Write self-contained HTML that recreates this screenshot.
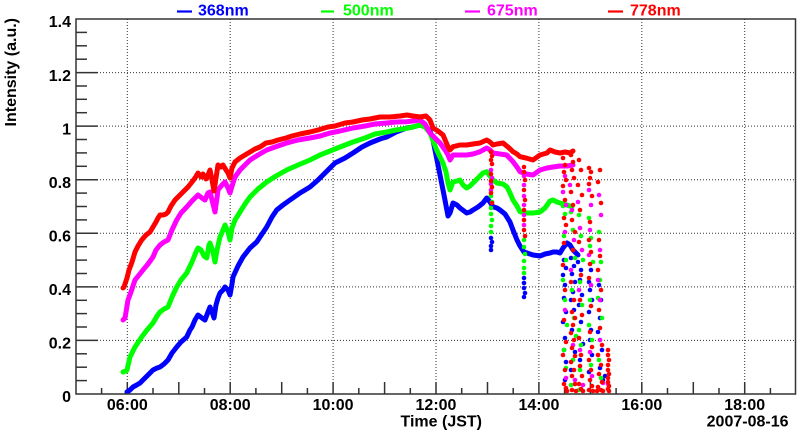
<!DOCTYPE html>
<html><head><meta charset="utf-8"><style>
html,body{margin:0;padding:0;background:#fff;}
svg{display:block;}
text{font-family:"Liberation Sans",Arial,sans-serif;font-weight:bold;font-size:16px;}
</style></head><body>
<svg width="800" height="434" viewBox="0 0 800 434" xmlns="http://www.w3.org/2000/svg">
<rect width="800" height="434" fill="#fff"/>
<!-- grid -->
<g stroke="#333" stroke-width="1" stroke-dasharray="1,2" fill="none">
<line x1="127.3" y1="19" x2="127.3" y2="394"/>
<line x1="230.2" y1="19" x2="230.2" y2="394"/>
<line x1="333.1" y1="19" x2="333.1" y2="394"/>
<line x1="436" y1="19" x2="436" y2="394"/>
<line x1="538.9" y1="19" x2="538.9" y2="394"/>
<line x1="641.8" y1="19" x2="641.8" y2="394"/>
<line x1="744.7" y1="19" x2="744.7" y2="394"/>
<line x1="76" y1="340.4" x2="795.5" y2="340.4"/>
<line x1="76" y1="286.9" x2="795.5" y2="286.9"/>
<line x1="76" y1="233.3" x2="795.5" y2="233.3"/>
<line x1="76" y1="179.7" x2="795.5" y2="179.7"/>
<line x1="76" y1="126.1" x2="795.5" y2="126.1"/>
<line x1="76" y1="72.6" x2="795.5" y2="72.6"/>
</g>
<!-- ticks -->
<g stroke="#333" stroke-width="1.5">
<line x1="76" y1="340.4" x2="98" y2="340.4"/><line x1="76" y1="286.9" x2="98" y2="286.9"/>
<line x1="76" y1="233.3" x2="98" y2="233.3"/><line x1="76" y1="179.7" x2="98" y2="179.7"/>
<line x1="76" y1="126.1" x2="98" y2="126.1"/><line x1="76" y1="72.6" x2="98" y2="72.6"/>
<line x1="76" y1="380.6" x2="87" y2="380.6"/><line x1="76" y1="367.2" x2="87" y2="367.2"/><line x1="76" y1="353.8" x2="87" y2="353.8"/>
<line x1="76" y1="327" x2="87" y2="327"/><line x1="76" y1="313.6" x2="87" y2="313.6"/><line x1="76" y1="300.3" x2="87" y2="300.3"/>
<line x1="76" y1="273.5" x2="87" y2="273.5"/><line x1="76" y1="260.1" x2="87" y2="260.1"/><line x1="76" y1="246.7" x2="87" y2="246.7"/>
<line x1="76" y1="219.9" x2="87" y2="219.9"/><line x1="76" y1="206.5" x2="87" y2="206.5"/><line x1="76" y1="193.1" x2="87" y2="193.1"/>
<line x1="76" y1="166.3" x2="87" y2="166.3"/><line x1="76" y1="152.9" x2="87" y2="152.9"/><line x1="76" y1="139.5" x2="87" y2="139.5"/>
<line x1="76" y1="112.7" x2="87" y2="112.7"/><line x1="76" y1="99.3" x2="87" y2="99.3"/><line x1="76" y1="86" x2="87" y2="86"/>
<line x1="76" y1="59.2" x2="87" y2="59.2"/><line x1="76" y1="45.8" x2="87" y2="45.8"/><line x1="76" y1="32.4" x2="87" y2="32.4"/>
<line x1="101.6" y1="394" x2="101.6" y2="388"/><line x1="127.3" y1="394" x2="127.3" y2="382"/>
<line x1="153" y1="394" x2="153" y2="388"/><line x1="178.8" y1="394" x2="178.8" y2="382"/>
<line x1="204.5" y1="394" x2="204.5" y2="388"/><line x1="230.2" y1="394" x2="230.2" y2="382"/>
<line x1="255.9" y1="394" x2="255.9" y2="388"/><line x1="281.7" y1="394" x2="281.7" y2="382"/>
<line x1="307.4" y1="394" x2="307.4" y2="388"/><line x1="333.1" y1="394" x2="333.1" y2="382"/>
<line x1="358.8" y1="394" x2="358.8" y2="388"/><line x1="384.6" y1="394" x2="384.6" y2="382"/>
<line x1="410.3" y1="394" x2="410.3" y2="388"/><line x1="436" y1="394" x2="436" y2="382"/>
<line x1="461.7" y1="394" x2="461.7" y2="388"/><line x1="487.5" y1="394" x2="487.5" y2="382"/>
<line x1="513.2" y1="394" x2="513.2" y2="388"/><line x1="538.9" y1="394" x2="538.9" y2="382"/>
<line x1="564.6" y1="394" x2="564.6" y2="388"/><line x1="590.4" y1="394" x2="590.4" y2="382"/>
<line x1="616.1" y1="394" x2="616.1" y2="388"/><line x1="641.8" y1="394" x2="641.8" y2="382"/>
<line x1="667.5" y1="394" x2="667.5" y2="388"/><line x1="693.3" y1="394" x2="693.3" y2="382"/>
<line x1="719" y1="394" x2="719" y2="388"/><line x1="744.7" y1="394" x2="744.7" y2="382"/>
<line x1="770.4" y1="394" x2="770.4" y2="388"/>
</g>

<!-- series -->
<g fill="none" stroke-width="5" stroke-linejoin="round" stroke-linecap="round">
<polyline stroke="#0000ff" points="127,392 130,390 133,387 136.7,385 140,383 143,380 148,375 153,370 157,368 160,367 164,364 168,360 172,353 176.7,347 181,342 186.7,337 190,330 192,327 195,320 198,315 202,318 205,320 208,312 210,307 212,312 214,318 216,305 218,298 220,293 223,290 225,287 228,290 230,295 232,284 233,277 238,266 243,257 250,248 256.7,242 262,234 266.7,227 272,217 276.7,210 283,205 290,200 300,193 310,187 318,180 328,170 335,163 345,158 353,153 362,147 370,143 380,139 386.7,137 396,132 406.7,128 413,127 420,125 425,126 430,131 433,140 437,160 440,175 444,195 448,216 450,213 453,203 457,205 460,208 466.7,213 470,212 473,210 478,207 483,203 486.7,198 490,202 493,206.7 497,208 500,210 505,214 510,222 513,230 517,240 520,246 524,252 527,253 533,255 540,256 545,254 550,253 553,252 557,252 560,253 563,248 567,243 570,245 573,250 576,253 578,255"/>
<polyline stroke="#00ff00" points="123,372 126,371 127,370 130,357 135,347 141.7,337 147,330 153,323 157,316 160,312 164,309 168,307 172,297 176.7,287 181,280 186.7,273 192,262 196,252 198,248 201,250 204,256 206.7,258 209,245 210,243 213,252 215,262 217,250 220,237 223,230 225,225 228,232 230,240 232,228 235,220 240,212 245,204 250,197 258,189 266.7,182 276,176 286.7,170 298,165 310,160 320,155 330,151 340,147 353,142 365,138 375,134 386.7,132 396,130 406.7,128.3 413,127 420,125 425,127 430,133 436.7,150 440,157 443,163 446,172 448,183 450,190 453,182 457,181 460,180 463,185 466.7,188 470,186 473,183 478,178 483,173 486.7,171.7 490,176 493,180 497,183 503,184 507,187 510,193 513,200 517,206 520,211.7 526,213 533,213 540,212 545,208 550,201 553,200 557,202 560,203 567,205 572,206.7"/>
<polyline stroke="#ff00ff" points="123,320 125,318 128,300 131,292 135,280 139,275 143,270 148,264 153,257 156,250 160,245 164,242 168,240 172,230 176.7,220 181,213 186.7,207 192,201 198,195 202,198 205,200 208,193 210,192 213,204 215,212 217,198 218,190 222,185 225,182 228,188 230,193 233,183 235,177 240,170 245,165 250,160 258,155 266.7,150 275,147 286.7,143 298,140 310,138 320,136 330,133 340,131 353,128 365,126 375,124 386.7,123 396,122 406.7,121.7 413,121 420,120 425,124 430,133 435,138 440,143 445,150 448,155 450,160 453,155 460,155 466.7,155 473,154 480,151.7 486.7,148 490,150 493,153 500,154 506.7,155 513,161.7 517,167 520,171.7 526,174 533,175 540,170 547,168 553,167 560,166 567,166 573,165"/>
<polyline stroke="#ff0000" points="123,288 124,287 127,278 129,270 132,262 135,252 138,246 141.7,240 146,235 150,232 153,227 156,222 158,218 160,215 163,215 166,214 168,212 171,206 175,200 179,196 183,192 188,187 192,182 195,178 198,173 201,177 203,174 206,179 208,175 210,170 212,180 214,191 216,178 218,165 221,167 223,165 226,170 228,173 230,178 232,168 235,162 240,158 245,155 250,152 255,149 260,147 266,143 272,142 278,140 286,138 292,136 300,134 310,132 318,130 328,127 335,126 345,123 353,122 362,120 370,119 380,117 390,117 400,116 407,115 413,116 420,117 426,116 430,120 433,128 438,131 443,135 448,146.7 450,150 453,146.7 460,145 466.7,145 473,144 480,143 486.7,140 490,142 493,145 497,144 503,143 508,147 513,151.7 517,154 520,156.7 526,158 533,160 540,155 547,153 550,150 555,152 560,153 565,152 570,153 573,151"/>
</g>

<!-- scattered points -->
<g fill="#0000ff">
<circle cx="491" cy="238" r="2.3"/><circle cx="492" cy="242" r="2.3"/><circle cx="491" cy="246" r="2.3"/><circle cx="491" cy="250" r="2.3"/>
<circle cx="524" cy="278" r="2.3"/><circle cx="524" cy="283" r="2.3"/><circle cx="524" cy="288" r="2.3"/><circle cx="525" cy="293" r="2.3"/><circle cx="524" cy="297" r="2.3"/>
<circle cx="564" cy="260" r="2.3"/><circle cx="566" cy="268" r="2.3"/><circle cx="563" cy="275" r="2.3"/><circle cx="565" cy="285" r="2.3"/><circle cx="564" cy="298" r="2.3"/><circle cx="566" cy="312" r="2.3"/><circle cx="563" cy="322" r="2.3"/><circle cx="565" cy="338" r="2.3"/><circle cx="564" cy="350" r="2.3"/><circle cx="566" cy="362" r="2.3"/><circle cx="565" cy="380" r="2.3"/>
<circle cx="571" cy="258" r="2.3"/><circle cx="574" cy="266" r="2.3"/><circle cx="572" cy="274" r="2.3"/><circle cx="575" cy="282" r="2.3"/><circle cx="573" cy="292" r="2.3"/><circle cx="571" cy="300" r="2.3"/><circle cx="574" cy="310" r="2.3"/><circle cx="572" cy="330" r="2.3"/><circle cx="575" cy="352" r="2.3"/><circle cx="571" cy="370" r="2.3"/>
<circle cx="578" cy="262" r="2.3"/><circle cx="581" cy="270" r="2.3"/><circle cx="580" cy="280" r="2.3"/><circle cx="582" cy="295" r="2.3"/><circle cx="579" cy="305" r="2.3"/><circle cx="581" cy="322" r="2.3"/><circle cx="583" cy="344" r="2.3"/><circle cx="580" cy="360" r="2.3"/>
<circle cx="591" cy="270" r="2.3"/><circle cx="589" cy="282" r="2.3"/><circle cx="590" cy="290" r="2.3"/><circle cx="592" cy="300" r="2.3"/><circle cx="589" cy="312" r="2.3"/><circle cx="591" cy="330" r="2.3"/><circle cx="590" cy="340" r="2.3"/><circle cx="592" cy="355" r="2.3"/><circle cx="589" cy="372" r="2.3"/>
<circle cx="599" cy="285" r="2.3"/><circle cx="601" cy="300" r="2.3"/><circle cx="600" cy="318" r="2.3"/><circle cx="598" cy="332" r="2.3"/><circle cx="602" cy="350" r="2.3"/><circle cx="600" cy="368" r="2.3"/><circle cx="603" cy="380" r="2.3"/><circle cx="605" cy="376" r="2.3"/>
</g>
<g fill="#00ff00">
<circle cx="491" cy="196" r="2.3"/><circle cx="492" cy="202" r="2.3"/><circle cx="491" cy="208" r="2.3"/><circle cx="491" cy="214" r="2.3"/><circle cx="492" cy="220" r="2.3"/><circle cx="491" cy="226" r="2.3"/><circle cx="491" cy="232" r="2.3"/>
<circle cx="524" cy="240" r="2.3"/><circle cx="524" cy="247" r="2.3"/><circle cx="525" cy="254" r="2.3"/><circle cx="524" cy="261" r="2.3"/><circle cx="524" cy="268" r="2.3"/><circle cx="524" cy="273" r="2.3"/>
<circle cx="563" cy="206" r="2.3"/><circle cx="565" cy="214" r="2.3"/><circle cx="564" cy="236" r="2.3"/><circle cx="566" cy="260" r="2.3"/><circle cx="563" cy="280" r="2.3"/><circle cx="565" cy="300" r="2.3"/><circle cx="567" cy="325" r="2.3"/><circle cx="564" cy="350" r="2.3"/><circle cx="566" cy="368" r="2.3"/>
<circle cx="571" cy="212" r="2.3"/><circle cx="573" cy="230" r="2.3"/><circle cx="575" cy="258" r="2.3"/><circle cx="572" cy="290" r="2.3"/><circle cx="574" cy="318" r="2.3"/><circle cx="576" cy="336" r="2.3"/><circle cx="573" cy="360" r="2.3"/><circle cx="571" cy="385" r="2.3"/>
<circle cx="579" cy="215" r="2.3"/><circle cx="581" cy="236" r="2.3"/><circle cx="583" cy="260" r="2.3"/><circle cx="580" cy="282" r="2.3"/><circle cx="582" cy="305" r="2.3"/><circle cx="579" cy="330" r="2.3"/><circle cx="581" cy="345" r="2.3"/><circle cx="580" cy="370" r="2.3"/>
<circle cx="589" cy="218" r="2.3"/><circle cx="591" cy="238" r="2.3"/><circle cx="590" cy="246" r="2.3"/><circle cx="593" cy="262" r="2.3"/><circle cx="590" cy="300" r="2.3"/><circle cx="589" cy="325" r="2.3"/><circle cx="592" cy="340" r="2.3"/><circle cx="591" cy="365" r="2.3"/>
<circle cx="599" cy="232" r="2.3"/><circle cx="601" cy="262" r="2.3"/><circle cx="600" cy="280" r="2.3"/><circle cx="598" cy="298" r="2.3"/><circle cx="602" cy="318" r="2.3"/><circle cx="600" cy="340" r="2.3"/><circle cx="599" cy="360" r="2.3"/><circle cx="601" cy="378" r="2.3"/><circle cx="579" cy="390" r="2.3"/>
</g>
<g fill="#ff00ff">
<circle cx="491" cy="170" r="2.3"/><circle cx="492" cy="178" r="2.3"/><circle cx="491" cy="184" r="2.3"/><circle cx="491" cy="190" r="2.3"/>
<circle cx="524" cy="176" r="2.3"/><circle cx="524" cy="185" r="2.3"/><circle cx="524" cy="196" r="2.3"/><circle cx="524" cy="205" r="2.3"/><circle cx="524" cy="215" r="2.3"/><circle cx="524" cy="225" r="2.3"/>
<circle cx="565" cy="176" r="2.3"/><circle cx="563" cy="192" r="2.3"/><circle cx="566" cy="205" r="2.3"/><circle cx="565" cy="232" r="2.3"/><circle cx="570" cy="185" r="2.3"/><circle cx="572" cy="210" r="2.3"/><circle cx="574" cy="240" r="2.3"/><circle cx="571" cy="270" r="2.3"/>
<circle cx="578" cy="202" r="2.3"/><circle cx="580" cy="228" r="2.3"/><circle cx="582" cy="250" r="2.3"/><circle cx="579" cy="290" r="2.3"/><circle cx="589" cy="190" r="2.3"/><circle cx="591" cy="205" r="2.3"/><circle cx="590" cy="230" r="2.3"/><circle cx="589" cy="255" r="2.3"/><circle cx="591" cy="285" r="2.3"/>
<circle cx="599" cy="195" r="2.3"/><circle cx="601" cy="215" r="2.3"/><circle cx="600" cy="250" r="2.3"/><circle cx="598" cy="280" r="2.3"/><circle cx="600" cy="300" r="2.3"/><circle cx="565" cy="310" r="2.3"/><circle cx="573" cy="345" r="2.3"/><circle cx="580" cy="350" r="2.3"/><circle cx="590" cy="352" r="2.3"/><circle cx="600" cy="340" r="2.3"/>
<circle cx="566" cy="378" r="2.3"/><circle cx="575" cy="380" r="2.3"/><circle cx="583" cy="385" r="2.3"/><circle cx="592" cy="376" r="2.3"/><circle cx="603" cy="383" r="2.3"/><circle cx="608" cy="384" r="2.3"/>
</g>
<g fill="#ff0000">
<circle cx="491" cy="152" r="2.3"/><circle cx="492" cy="156" r="2.3"/><circle cx="491" cy="160" r="2.3"/><circle cx="492" cy="164" r="2.3"/><circle cx="491" cy="174" r="2.3"/><circle cx="491" cy="181" r="2.3"/><circle cx="492" cy="187" r="2.3"/><circle cx="491" cy="193" r="2.3"/><circle cx="492" cy="203" r="2.3"/>
<circle cx="524" cy="167" r="2.3"/><circle cx="524" cy="172" r="2.3"/><circle cx="525" cy="180" r="2.3"/><circle cx="524" cy="190" r="2.3"/><circle cx="525" cy="200" r="2.3"/><circle cx="524" cy="210" r="2.3"/><circle cx="524" cy="220" r="2.3"/><circle cx="524" cy="230" r="2.3"/><circle cx="525" cy="236" r="2.3"/>
<circle cx="566" cy="152" r="2.3"/><circle cx="563" cy="158" r="2.3"/><circle cx="565" cy="165" r="2.3"/><circle cx="564" cy="172" r="2.3"/><circle cx="566" cy="180" r="2.3"/><circle cx="563" cy="186" r="2.3"/><circle cx="565" cy="200" r="2.3"/><circle cx="564" cy="218" r="2.3"/><circle cx="566" cy="225" r="2.3"/><circle cx="564" cy="243" r="2.3"/><circle cx="563" cy="265" r="2.3"/><circle cx="565" cy="290" r="2.3"/><circle cx="564" cy="320" r="2.3"/><circle cx="566" cy="342" r="2.3"/><circle cx="563" cy="355" r="2.3"/><circle cx="565" cy="370" r="2.3"/><circle cx="564" cy="384" r="2.3"/><circle cx="566" cy="388" r="2.3"/><circle cx="567" cy="391" r="2.3"/>
<circle cx="571" cy="155" r="2.3"/><circle cx="573" cy="162" r="2.3"/><circle cx="572" cy="170" r="2.3"/><circle cx="574" cy="178" r="2.3"/><circle cx="571" cy="192" r="2.3"/><circle cx="573" cy="205" r="2.3"/><circle cx="572" cy="220" r="2.3"/><circle cx="575" cy="232" r="2.3"/><circle cx="573" cy="250" r="2.3"/><circle cx="571" cy="282" r="2.3"/><circle cx="574" cy="300" r="2.3"/><circle cx="572" cy="312" r="2.3"/><circle cx="575" cy="318" r="2.3"/><circle cx="573" cy="325" r="2.3"/><circle cx="571" cy="333" r="2.3"/><circle cx="574" cy="340" r="2.3"/><circle cx="572" cy="348" r="2.3"/><circle cx="575" cy="356" r="2.3"/><circle cx="571" cy="362" r="2.3"/><circle cx="574" cy="370" r="2.3"/><circle cx="572" cy="376" r="2.3"/><circle cx="575" cy="384" r="2.3"/><circle cx="572" cy="390" r="2.3"/><circle cx="576" cy="391" r="2.3"/>
<circle cx="579" cy="160" r="2.3"/><circle cx="581" cy="170" r="2.3"/><circle cx="578" cy="185" r="2.3"/><circle cx="582" cy="195" r="2.3"/><circle cx="580" cy="210" r="2.3"/><circle cx="579" cy="242" r="2.3"/><circle cx="581" cy="275" r="2.3"/><circle cx="580" cy="300" r="2.3"/><circle cx="582" cy="315" r="2.3"/><circle cx="579" cy="338" r="2.3"/><circle cx="581" cy="355" r="2.3"/><circle cx="580" cy="366" r="2.3"/><circle cx="582" cy="376" r="2.3"/><circle cx="579" cy="384" r="2.3"/><circle cx="581" cy="389" r="2.3"/><circle cx="583" cy="391" r="2.3"/>
<circle cx="589" cy="168" r="2.3"/><circle cx="591" cy="172" r="2.3"/><circle cx="590" cy="178" r="2.3"/><circle cx="589" cy="184" r="2.3"/><circle cx="592" cy="196" r="2.3"/><circle cx="590" cy="222" r="2.3"/><circle cx="589" cy="240" r="2.3"/><circle cx="591" cy="252" r="2.3"/><circle cx="590" cy="264" r="2.3"/><circle cx="589" cy="278" r="2.3"/><circle cx="591" cy="306" r="2.3"/><circle cx="590" cy="332" r="2.3"/><circle cx="592" cy="347" r="2.3"/><circle cx="589" cy="360" r="2.3"/><circle cx="591" cy="370" r="2.3"/><circle cx="590" cy="380" r="2.3"/><circle cx="592" cy="386" r="2.3"/><circle cx="589" cy="390" r="2.3"/><circle cx="593" cy="391" r="2.3"/>
<circle cx="600" cy="170" r="2.3"/><circle cx="598" cy="182" r="2.3"/><circle cx="601" cy="203" r="2.3"/><circle cx="599" cy="240" r="2.3"/><circle cx="600" cy="256" r="2.3"/><circle cx="598" cy="270" r="2.3"/><circle cx="601" cy="290" r="2.3"/><circle cx="599" cy="310" r="2.3"/><circle cx="600" cy="328" r="2.3"/><circle cx="602" cy="345" r="2.3"/><circle cx="598" cy="355" r="2.3"/><circle cx="601" cy="365" r="2.3"/><circle cx="599" cy="374" r="2.3"/><circle cx="602" cy="382" r="2.3"/><circle cx="598" cy="387" r="2.3"/><circle cx="601" cy="390" r="2.3"/><circle cx="603" cy="391" r="2.3"/><circle cx="597" cy="391" r="2.3"/>
<circle cx="608" cy="350" r="2.3"/><circle cx="608" cy="355" r="2.3"/><circle cx="609" cy="360" r="2.3"/><circle cx="608" cy="365" r="2.3"/><circle cx="608" cy="370" r="2.3"/><circle cx="609" cy="374" r="2.3"/><circle cx="608" cy="378" r="2.3"/><circle cx="608" cy="382" r="2.3"/><circle cx="609" cy="386" r="2.3"/><circle cx="608" cy="389" r="2.3"/><circle cx="609" cy="391" r="2.3"/>
</g>

<!-- frame -->
<rect x="76" y="19" width="719.5" height="375" fill="none" stroke="#333" stroke-width="1.5"/>

<!-- y labels -->
<g text-anchor="end" fill="#000">
<text x="71" y="402">0</text>
<text x="71" y="348.5">0.2</text>
<text x="71" y="295">0.4</text>
<text x="71" y="241.5">0.6</text>
<text x="71" y="188">0.8</text>
<text x="71" y="134.5">1</text>
<text x="71" y="81">1.2</text>
<text x="71" y="27">1.4</text>
</g>
<!-- x labels -->
<g text-anchor="middle" fill="#000">
<text x="127.3" y="410">06:00</text>
<text x="230.2" y="410">08:00</text>
<text x="333.1" y="410">10:00</text>
<text x="436" y="410">12:00</text>
<text x="538.9" y="410">14:00</text>
<text x="641.8" y="410">16:00</text>
<text x="744.7" y="410">18:00</text>
</g>
<text x="482" y="426.5" text-anchor="end">Time (JST)</text>
<text x="788.5" y="426.5" text-anchor="end">2007-08-16</text>
<text transform="translate(16,18) rotate(-90)" text-anchor="end">Intensity (a.u.)</text>

<!-- legend -->
<g stroke-width="2.2">
<line x1="177" y1="11.5" x2="192" y2="11.5" stroke="#0000ff"/>
<line x1="321" y1="11.5" x2="334" y2="11.5" stroke="#00ff00"/>
<line x1="465" y1="11.5" x2="480" y2="11.5" stroke="#ff00ff"/>
<line x1="608" y1="11.5" x2="623" y2="11.5" stroke="#ff0000"/>
</g>
<text x="198" y="15.5" fill="#0000ff">368nm</text>
<text x="343" y="15.5" fill="#00ff00">500nm</text>
<text x="487" y="15.5" fill="#ff00ff">675nm</text>
<text x="630" y="15.5" fill="#ff0000">778nm</text>
</svg>
</body></html>
